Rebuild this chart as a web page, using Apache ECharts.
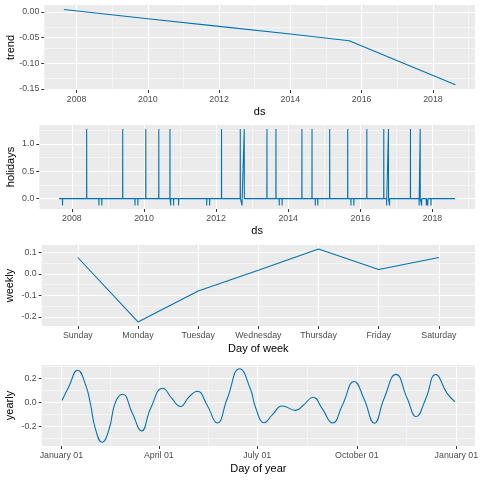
<!DOCTYPE html>
<html>
<head>
<meta charset="utf-8">
<script src="https://cdn.jsdelivr.net/npm/echarts@6/dist/echarts.min.js"></script>
<style>
  html, body { margin: 0; padding: 0; background: #fff; }
  #chart { width: 480px; height: 480px; }
</style>
</head>
<body>
<div id="chart"></div>
<script>
// trend (decimal year -> value)
const trendYears = [2007.645, 2010, 2012, 2014, 2015.65, 2018.63]
const trendValues = [0.005, -0.013, -0.028, -0.043, -0.056, -0.142]

// holidays: spike dates (decimal year) and heights, baseline 0
const holidayStart = 2007.645
const holidayEnd = 2018.63
const holidayDates = [
  2007.74, 2008.41, 2008.75, 2008.83, 2009.41, 2009.75, 2009.83, 2010.05, 2010.41,
  2010.72, 2010.74, 2010.82, 2010.96, 2011.74, 2011.82, 2012.15, 2012.67, 2012.72,
  2012.78, 2013.41, 2013.66, 2013.75, 2013.83, 2014.38, 2014.66, 2014.75, 2014.82,
  2015.15, 2015.65, 2015.74, 2015.82, 2016.18, 2016.65, 2016.73, 2016.78, 2016.81,
  2017.39, 2017.63, 2017.66, 2017.70, 2017.83, 2017.87, 2017.96
]
const holidayValues = [
  -0.128, 1.27, -0.128, -0.128, 1.27, -0.128, -0.128, 1.27, 1.27,
  1.27, -0.128, -0.128, -0.128, -0.128, -0.128, 1.27, 1.27, -0.128,
  1.27, 1.27, 1.27, -0.128, -0.128, 1.27, 1.27, -0.128, -0.128,
  1.27, 1.27, -0.128, -0.128, 1.27, 1.27, -0.128, 1.27, -0.128,
  1.27, -0.128, 1.27, -0.128, -0.128, -0.128, -0.128
]

// weekly
const weekDays = ['Sunday', 'Monday', 'Tuesday', 'Wednesday', 'Thursday', 'Friday', 'Saturday']
const weeklyValues = [0.076, -0.223, -0.079, 0.017, 0.115, 0.020, 0.076]

// yearly (day of year from Jan 01 -> value)
const yearDays = [
  0.6, 6.8, 15.1, 22.2, 26.8, 31.4, 37.6, 43.8, 49.9, 56.5, 65.4, 74.2, 82.3, 93.8,
  102.3, 110, 117.8, 125.5, 134.7, 144, 153.2, 164.7, 174.9, 179.5, 187.5, 194.8,
  204.2, 216.5, 224, 232.4, 241, 250.6, 259.6, 270.6, 279.6, 289.2, 298.1, 309.2,
  319.7, 327.8, 336.7, 345.9, 356.6, 363.7
]
const yearlyValues = [
  0.015, 0.13, 0.268, 0.15, -0.01, -0.22, -0.333, -0.233, 0.0, 0.068, -0.086, -0.238, -0.053, 0.117,
  0.03, -0.035, 0.044, 0.093, -0.025, -0.172, 0.03, 0.28, 0.105, -0.045, -0.17, -0.105,
  -0.03, -0.067, -0.02, 0.043, -0.053, -0.172, -0.025, 0.174, 0.03, -0.174, 0.03, 0.233,
  0.03, -0.12, 0.03, 0.232, 0.072, 0.005
]

// tick labels
const yearTicks = [2008, 2010, 2012, 2014, 2016, 2018]
const yearMinorTicks = [2009, 2011, 2013, 2015, 2017, 2019]
const weekTicks = [0, 1, 2, 3, 4, 5, 6]
const dayTicks = [0, 90, 181, 273, 365]
const dayTickLabels = ['January 01', 'April 01', 'July 01', 'October 01', 'January 01']
const dayMinorTicks = [45, 135.5, 227, 319]
const trendTicks = [-0.15, -0.1, -0.05, 0]
const holidayTicks = [0, 0.5, 1]
const weeklyTicks = [-0.2, -0.1, 0, 0.1]
const yearlyTicks = [-0.2, 0, 0.2]

const font = '"Liberation Sans", Arial, Helvetica, sans-serif'
const lineColor = '#0072B2'
const panels = [
  { left: 44.3, top: 5, height: 85 },
  { left: 39.3, top: 125, height: 84 },
  { left: 41.7, top: 245, height: 81 },
  { left: 41.7, top: 365, height: 81 }
]

const makeAxis = (gridIndex, min, max, majors, fmt, name, nameGap) => ({
  type: 'value', gridIndex, min, max,
  name, nameLocation: 'middle', nameGap, nameMoveOverlap: false,
  nameTextStyle: { color: '#000', fontSize: 11, fontFamily: font },
  axisLine: { show: false, onZero: false },
  axisTick: { show: true, customValues: majors, length: 3, lineStyle: { color: '#333', width: 1 } },
  axisLabel: { customValues: majors, formatter: fmt, color: '#4D4D4D', fontSize: 8.8, fontFamily: font, margin: 5 },
  splitLine: { show: false }
})

const xAxes = [
  makeAxis(0, 2007.096, 2019.18, yearTicks, v => String(v), 'ds', 16),
  makeAxis(1, 2007.096, 2019.18, yearTicks, v => String(v), 'ds', 16),
  makeAxis(2, -0.6, 6.6, weekTicks, v => weekDays[v], 'Day of week', 17),
  makeAxis(3, -18.2, 382.2, dayTicks, v => dayTickLabels[dayTicks.indexOf(v)], 'Day of year', 17)
]
const yAxes = [
  makeAxis(0, -0.1523, 0.0137, trendTicks, v => v.toFixed(2), 'trend', 28),
  makeAxis(1, -0.19, 1.345, holidayTicks, v => v.toFixed(1), 'holidays', 23),
  makeAxis(2, -0.2417, 0.134, weeklyTicks, v => v.toFixed(1), 'weekly', 26),
  makeAxis(3, -0.364, 0.311, yearlyTicks, v => v.toFixed(1), 'yearly', 26)
]

// grid lines per panel (major and minor breaks)
const majorX = [yearTicks, yearTicks, weekTicks, dayTicks]
const majorY = [trendTicks, holidayTicks, weeklyTicks, yearlyTicks]
const minorX = [yearMinorTicks, yearMinorTicks, [], dayMinorTicks]
const minorY = [
  [-0.125, -0.075, -0.025],
  [0.25, 0.75, 1.25],
  [-0.15, -0.05, 0.05],
  [-0.3, -0.1, 0.1, 0.3]
]

const day = 1 / 365.25
const holidayData = [[holidayStart, 0]]
holidayDates.forEach((d, i) => {
  holidayData.push([d - day, 0], [d, holidayValues[i]], [d + day, 0])
})
holidayData.push([holidayEnd, 0])

const gridLine = (v, key, width) => ({ [key]: v, lineStyle: { color: '#fff', width, type: 'solid' } })

const lineSeries = (i, data, smooth) => ({
  type: 'line', xAxisIndex: i, yAxisIndex: i, data,
  symbol: 'none', smooth: smooth || false,
  lineStyle: { color: lineColor, width: 1.07 },
  markLine: {
    silent: true, symbol: 'none', z: 1, animation: false,
    label: { show: false },
    emphasis: { disabled: true },
    data: [
      ...minorX[i].map(v => gridLine(v, 'xAxis', 0.53)),
      ...minorY[i].map(v => gridLine(v, 'yAxis', 0.53)),
      ...majorX[i].map(v => gridLine(v, 'xAxis', 1.07)),
      ...majorY[i].map(v => gridLine(v, 'yAxis', 1.07))
    ]
  }
})

const option = {
  animation: false,
  backgroundColor: '#fff',
  grid: panels.map(p => ({
    left: p.left, top: p.top, width: 475 - p.left, height: p.height,
    show: true, backgroundColor: '#EBEBEB', borderWidth: 0, outerBoundsMode: 'none'
  })),
  xAxis: xAxes,
  yAxis: yAxes,
  series: [
    lineSeries(0, trendYears.map((y, i) => [y, trendValues[i]])),
    lineSeries(1, holidayData),
    lineSeries(2, weekDays.map((d, i) => [i, weeklyValues[i]])),
    lineSeries(3, yearDays.map((d, i) => [d, yearlyValues[i]]), 0.5)
  ]
}

const chart = echarts.init(document.getElementById('chart'))
chart.setOption(option)
window.addEventListener('resize', () => chart.resize())
</script>
</body>
</html>
